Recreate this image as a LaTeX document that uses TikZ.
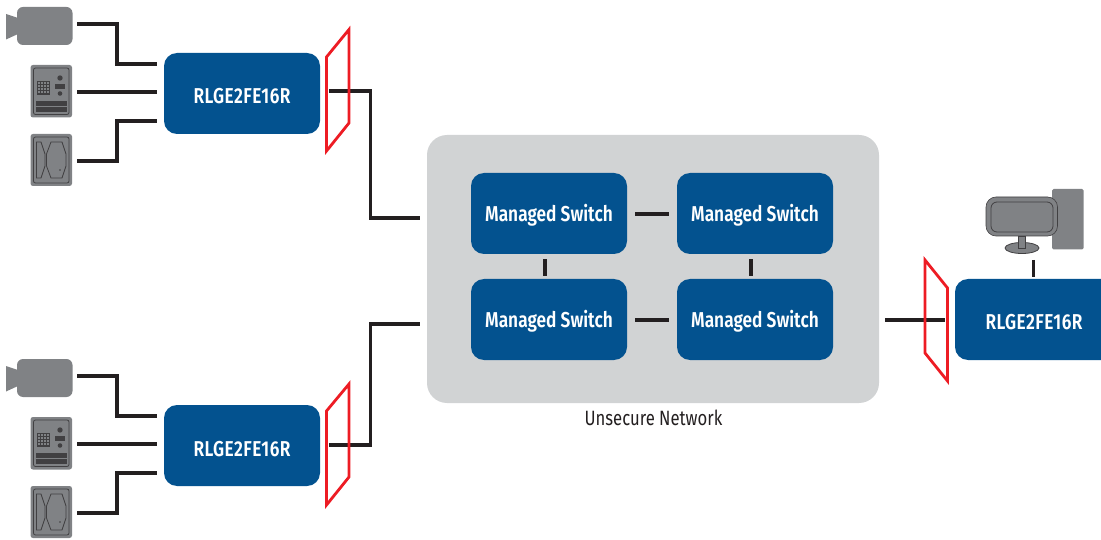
\documentclass[tikz,border=0pt]{standalone}
\usepackage{fontspec}
\setmainfont[FakeStretch=0.805,BoldFont={Fira Sans SemiBold}]{Fira Sans}
\usetikzlibrary{calc}
\definecolor{rlblue}{HTML}{03528F}
\definecolor{netgrey}{HTML}{D1D3D4}
\definecolor{icongrey}{HTML}{808285}
\definecolor{icondark}{HTML}{414042}
\definecolor{wirecol}{HTML}{231F20}
\definecolor{fwred}{HTML}{ED1C24}
\newcommand{\lowlabel}[2]{\raisebox{#1}[0pt][0pt]{#2}}
\newcommand{\gwname}{{\addfontfeature{LetterSpace=2}RLGE2FE16R}}
\tikzset{
  x=1pt,y=-1pt,
  bluebox/.style={fill=rlblue,rounded corners=13pt,minimum width=156pt,minimum height=81pt,inner sep=0pt,text=white,font=\bfseries\fontsize{21.5}{24}\selectfont,anchor=center},
  netbox/.style={fill=netgrey,rounded corners=20pt,minimum width=452pt,minimum height=268pt,inner sep=0pt},
  wire/.style={draw=wirecol,line width=3.5pt,miter limit=10},
  firewall/.style={draw=fwred,line width=2.8pt,miter limit=10},
  iconline/.style={draw=icondark,line width=0.8pt},
}
\newcommand{\camicon}[1]{%
  \begin{scope}[shift={(0,#1)}]
    \fill[icongrey,rounded corners=6pt] (17,7) rectangle (72.5,45);
    \fill[icongrey] (6,14) -- (18,18) -- (18,34) -- (6,39.5) -- cycle;
  \end{scope}}
\newcommand{\keyicon}[1]{%
  \begin{scope}[shift={(0,#1)}]
    \fill[icongrey,rounded corners=2.5pt] (30.5,65) rectangle (72,117.5);
    \draw[iconline,rounded corners=2pt] (33.5,68) rectangle (69,114.5);
    \draw[icondark,line width=0.5pt,step=3pt,shift={(37.5,81)}] (0,0) grid (12,13);
    \draw[icondark,line width=0.5pt] (37.5,81) rectangle (49.5,94);
    \fill[icondark] (60,78) circle (2.7);
    \fill[icondark] (55,84) rectangle (65,89);
    \fill[icondark] (60,93.5) circle (2.3);
    \fill[icondark] (36,101) rectangle (67,106);
    \fill[icondark] (36,107) rectangle (67,112);
  \end{scope}}
\newcommand{\readicon}[1]{%
  \begin{scope}[shift={(0,#1)}]
    \fill[icongrey,rounded corners=2.5pt] (30.5,134) rectangle (72,186);
    \draw[iconline,rounded corners=2pt] (33.5,137) rectangle (69,183);
    \draw[iconline] (36.5,142) -- (41,142) -- (45,154) -- (45,166) -- (41,178) -- (36.5,178) -- cycle;
    \draw[iconline] (51,142) -- (62,142) -- (66,154) -- (66,166) -- (62,178) -- (51,178) -- (46.5,166) -- (46.5,154) -- cycle;
    \fill[icondark] (60,170) circle (0.8);
  \end{scope}}
\begin{document}
\begin{tikzpicture}
\useasboundingbox (0,0) rectangle (1101,540);
\clip (0,0) rectangle (1101,540);
% devices
\camicon{0}\keyicon{0}\readicon{0}
\camicon{352}\keyicon{352}\readicon{352}
% monitor
\fill[icongrey,rounded corners=1.5pt] (1052,189) rectangle (1083.5,249.5);
\fill[icongrey,draw=icondark,line width=0.8pt] (1022,248) ellipse (17 and 5.5);
\fill[icongrey,draw=icondark,line width=0.8pt] (1018,236) rectangle (1025,248);
\fill[icongrey,draw=icondark,line width=0.6pt,rounded corners=10pt] (986,197) rectangle (1057.5,236);
\draw[iconline,rounded corners=6pt] (991,202) rectangle (1053,232);
% network
\node[netbox] (net) at (653,269) {};
\node[font=\fontsize{20.7}{24}\selectfont,text=wirecol,inner sep=0pt] (netlabel) at (653.5,417.5) {Unsecure Network};
\node[bluebox] (g1) at (242,93.5) {\lowlabel{-10.5pt}{\gwname}};
\node[bluebox] (g2) at (242,445.5) {\lowlabel{-10.5pt}{\gwname}};
\node[bluebox] (s1) at (549,213.5) {\lowlabel{-8.5pt}{Managed Switch}};
\node[bluebox] (s2) at (755,213.5) {\lowlabel{-8.5pt}{Managed Switch}};
\node[bluebox] (s3) at (549,319.5) {\lowlabel{-8.5pt}{Managed Switch}};
\node[bluebox] (s4) at (755,319.5) {\lowlabel{-8.5pt}{Managed Switch}};
\node[bluebox,minimum width=200pt] (g3) at (1055,319.5) {};
\node[font=\bfseries\fontsize{21.5}{24}\selectfont,text=white,inner sep=0pt] (g3label) at (1034,322) {\gwname};
% free connector ends
\foreach \n/\dy in {a/0,b/352}{
  \coordinate (cam\n) at (77,24+\dy);
  \coordinate (key\n) at (77,92+\dy);
  \coordinate (rd\n) at (77,161+\dy);
  \coordinate (in\n1) at (157,64+\dy);
  \coordinate (in\n2) at (157,92+\dy);
  \coordinate (in\n3) at (157,121+\dy);
}
\coordinate (o1) at (329,91);
\coordinate (o2) at (329,445);
\coordinate (n1) at (420,218);
\coordinate (n2) at (420,324);
\coordinate (n3) at (885,320);
\coordinate (o3) at (945,320);
\coordinate (pc) at (1033.5,260);
\coordinate (gt) at (1033.5,277);
% connectors
\foreach \n in {a,b}{
  \draw[wire] (cam\n) -| (117,0|-in\n1) -- (in\n1);
  \draw[wire] (key\n) -- (in\n2);
  \draw[wire] (rd\n) -| (117,0|-in\n3) -- (in\n3);
}
\draw[wire] (o1) -| (370.5,0|-n1) -- (n1);
\draw[wire] (o2) -| (370.5,0|-n2) -- (n2);
\draw[wire] (n3) -- (o3);
\draw[wire] (pc) -- (gt);
\draw[wire,shorten <=8pt,shorten >=8pt] ([yshift=-0.5pt]s1.east) -- ([yshift=-0.5pt]s2.west);
\draw[wire,shorten <=8pt,shorten >=8pt] ([yshift=-0.5pt]s3.east) -- ([yshift=-0.5pt]s4.west);
\draw[wire,shorten <=5pt,shorten >=3pt] ([xshift=-4pt]s1.south) -- ([xshift=-4pt]s3.north);
\draw[wire,shorten <=5pt,shorten >=3pt] ([xshift=-4pt]s2.south) -- ([xshift=-4pt]s4.north);
% firewalls
\draw[firewall] (326.5,57) -- (349,29.5) -- (349,123) -- (326.5,151) -- cycle;
\draw[firewall] (326.5,411) -- (349,384) -- (349,477) -- (326.5,505) -- cycle;
\draw[firewall] (925,260) -- (947.5,288) -- (947.5,381) -- (925,353) -- cycle;
\end{tikzpicture}
\end{document}
